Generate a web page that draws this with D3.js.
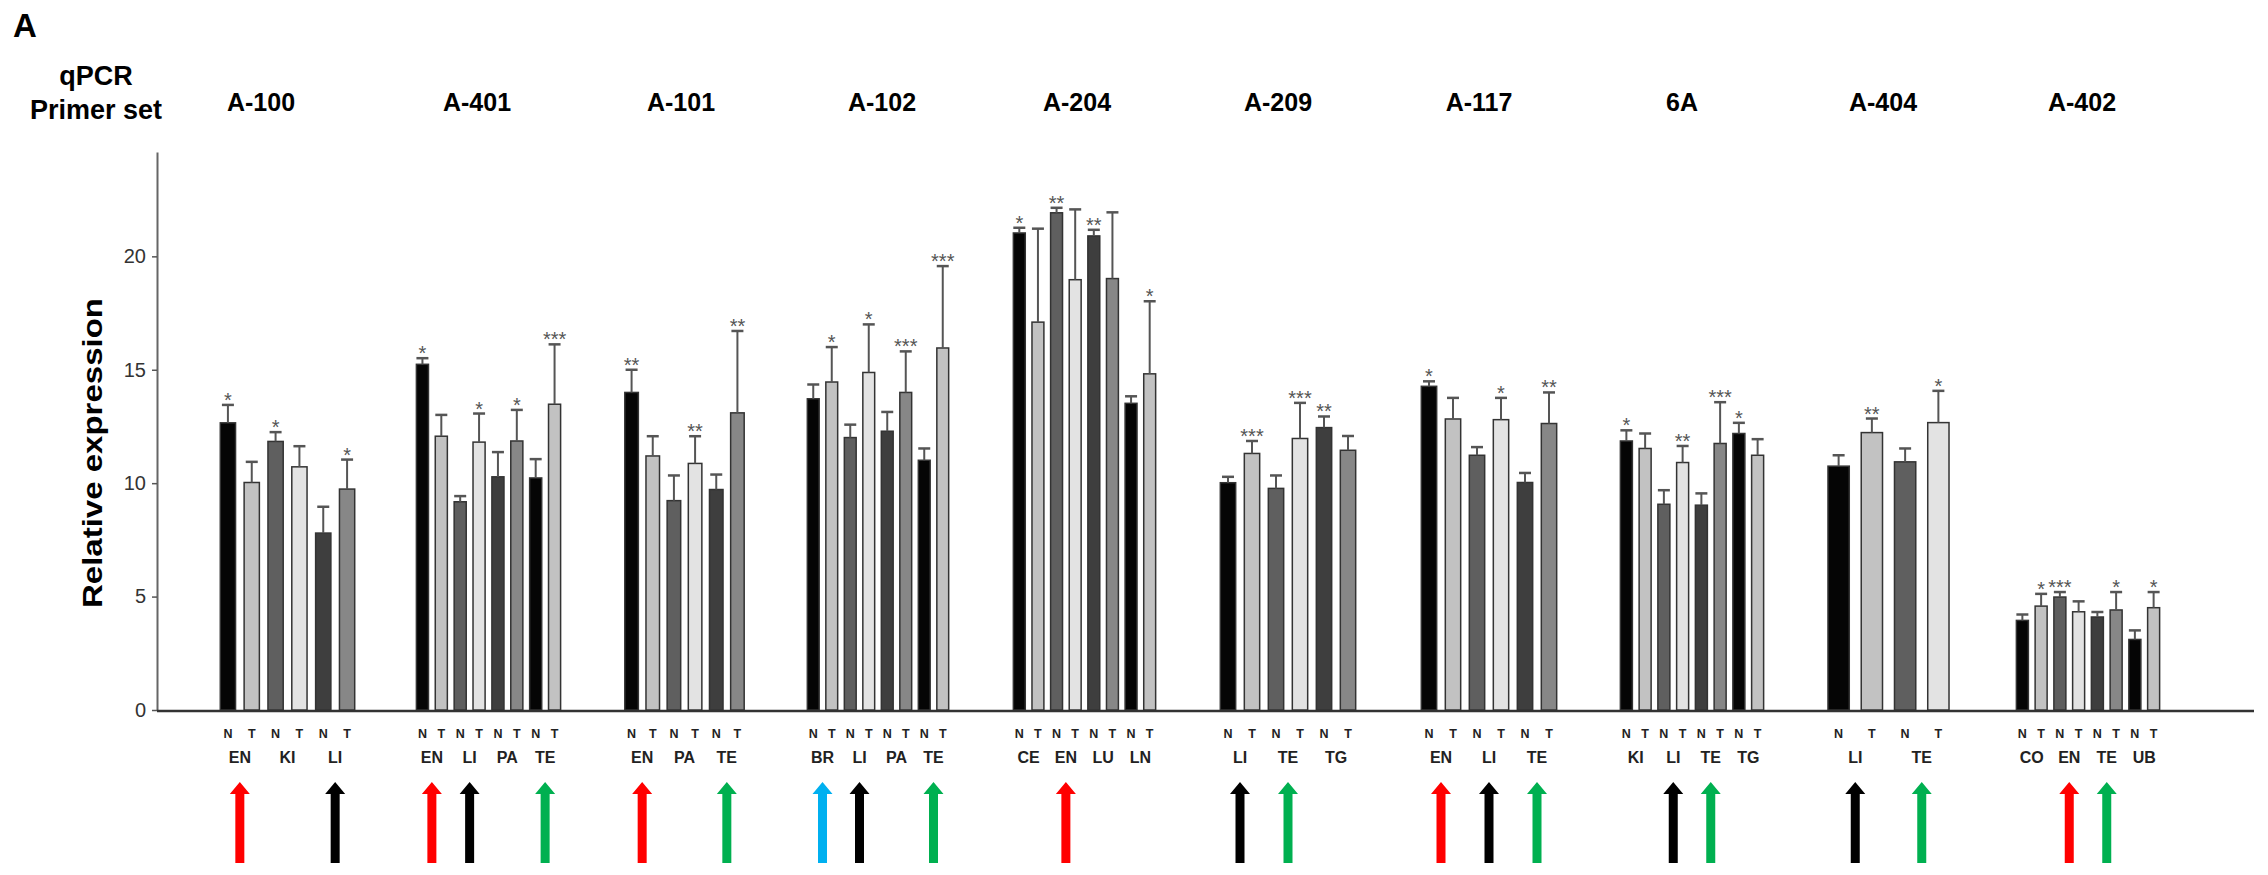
<!DOCTYPE html>
<html>
<head>
<meta charset="utf-8">
<script src="https://cdn.jsdelivr.net/npm/d3@7"></script>
<style>
  body { margin: 0; background: #fff; }
  svg { display: block; }
</style>
</head>
<body>
<div id="chart"></div>
<script>
// data
const primerSets = ['A-100', 'A-401', 'A-101', 'A-102', 'A-204', 'A-209', 'A-117', '6A', 'A-404', 'A-402'];

const tissues = [
  ['EN', 'KI', 'LI'],
  ['EN', 'LI', 'PA', 'TE'],
  ['EN', 'PA', 'TE'],
  ['BR', 'LI', 'PA', 'TE'],
  ['CE', 'EN', 'LU', 'LN'],
  ['LI', 'TE', 'TG'],
  ['EN', 'LI', 'TE'],
  ['KI', 'LI', 'TE', 'TG'],
  ['LI', 'TE'],
  ['CO', 'EN', 'TE', 'UB'],
];

// N, T, N, T ... per primer set
const means = [
  [12.66, 10.03, 11.84, 10.72, 7.80, 9.74],
  [15.24, 12.07, 9.18, 11.81, 10.28, 11.86, 10.23, 13.48],
  [14.0, 11.2, 9.23, 10.87, 9.72, 13.1],
  [13.72, 14.46, 12.01, 14.88, 12.29, 14.0, 11.01, 15.96],
  [21.03, 17.1, 21.92, 18.97, 20.9, 19.02, 13.52, 14.82],
  [10.02, 11.31, 9.77, 11.97, 12.45, 11.45],
  [14.27, 12.83, 11.23, 12.8, 10.03, 12.63],
  [11.86, 11.53, 9.07, 10.91, 9.03, 11.75, 12.19, 11.23],
  [10.75, 12.23, 10.94, 12.67],
  [3.95, 4.58, 4.98, 4.33, 4.1, 4.41, 3.11, 4.51],
];

const errors = [
  [0.79, 0.91, 0.41, 0.91, 1.16, 1.30],
  [0.27, 0.94, 0.25, 1.26, 1.09, 1.37, 0.83, 2.64],
  [1.0, 0.87, 1.11, 1.2, 0.66, 3.61],
  [0.63, 1.54, 0.57, 2.12, 0.85, 1.81, 0.52, 3.61],
  [0.23, 4.12, 0.22, 3.1, 0.27, 2.92, 0.31, 3.2],
  [0.26, 0.55, 0.57, 1.57, 0.49, 0.63],
  [0.22, 0.93, 0.36, 0.96, 0.42, 1.37],
  [0.47, 0.66, 0.62, 0.73, 0.52, 1.82, 0.47, 0.71],
  [0.48, 0.62, 0.59, 1.4],
  [0.26, 0.54, 0.22, 0.46, 0.22, 0.79, 0.4, 0.69],
];

const stars = [
  ['*', '', '*', '', '', '*'],
  ['*', '', '', '*', '', '*', '', '***'],
  ['**', '', '', '**', '', '**'],
  ['', '*', '', '*', '', '***', '', '***'],
  ['*', '', '**', '', '**', '', '', '*'],
  ['', '***', '', '***', '**', ''],
  ['*', '', '', '*', '', '**'],
  ['*', '', '', '**', '', '***', '*', ''],
  ['', '**', '', '*'],
  ['', '*', '***', '', '', '*', '', '*'],
];

const yTicks = [0, 5, 10, 15, 20];

// layout: pixel span of each panel and where its title sits
const panelRanges = [
  [216, 359], [413, 564], [621, 748], [804, 952], [1010, 1159],
  [1216, 1360], [1417, 1561], [1617, 1767], [1822, 1955], [2013, 2163],
];
const titleX = [261, 477, 681, 882, 1077, 1278, 1479, 1682, 1883, 2082];

const barColors = ['#050505', '#c2c2c2', '#5f5f5f', '#e3e3e3', '#3e3e3e', '#878787'];
const arrowColors = { EN: '#ff0000', LI: '#000000', TE: '#00b050', BR: '#00b0f0' };

const width = 2268, height = 875;
const font = "'Liberation Sans', Arial, Helvetica, sans-serif";
const narrow = "'Liberation Sans Narrow', 'Arial Narrow', 'Liberation Sans', sans-serif";

const svg = d3.select('#chart').append('svg')
  .attr('width', width)
  .attr('height', height)
  .style('background', '#fff');

const y = d3.scaleLinear().domain([0, 24.6]).range([710, 152]);

// panel letter and header
svg.append('text')
  .attr('x', 13).attr('y', 37)
  .attr('font-family', font).attr('font-weight', 'bold').attr('font-size', 33)
  .text('A');

svg.append('text')
  .attr('x', 96).attr('y', 85)
  .attr('text-anchor', 'middle')
  .attr('font-family', font).attr('font-weight', 'bold').attr('font-size', 27)
  .text('qPCR');
svg.append('text')
  .attr('x', 96).attr('y', 119)
  .attr('text-anchor', 'middle')
  .attr('font-family', font).attr('font-weight', 'bold').attr('font-size', 27)
  .text('Primer set');

svg.append('g')
  .selectAll('text')
  .data(primerSets)
  .enter().append('text')
  .attr('x', (d, i) => titleX[i])
  .attr('y', 111)
  .attr('text-anchor', 'middle')
  .attr('font-family', font).attr('font-weight', 'bold').attr('font-size', 25)
  .text(d => d);

// y axis
const yAxis = svg.append('g')
  .attr('transform', 'translate(157,0)')
  .call(d3.axisLeft(y).tickValues(yTicks).tickSize(5).tickSizeOuter(0).tickPadding(6));
yAxis.select('.domain').attr('stroke', '#666').attr('stroke-width', 2);
yAxis.selectAll('.tick line').attr('stroke', '#555').attr('stroke-width', 1.5);
yAxis.selectAll('.tick text')
  .attr('font-family', narrow).attr('font-size', 20).attr('fill', '#333');

svg.append('text')
  .attr('transform', 'translate(102,453) rotate(-90)')
  .attr('text-anchor', 'middle')
  .attr('font-family', font).attr('font-weight', 'bold').attr('font-size', 27)
  .attr('textLength', 310).attr('lengthAdjust', 'spacingAndGlyphs')
  .text('Relative expression');

// baseline
svg.append('line')
  .attr('x1', 157).attr('x2', 2254)
  .attr('y1', y(0) + 1).attr('y2', y(0) + 1)
  .attr('stroke', '#333').attr('stroke-width', 2.5);

primerSets.forEach((name, gi) => {
  const vals = means[gi];
  const x = d3.scaleBand()
    .domain(d3.range(vals.length))
    .range(panelRanges[gi])
    .paddingInner(0.36)
    .paddingOuter(0.18);
  const bw = x.bandwidth();
  const cx = i => x(i) + bw / 2;
  const g = svg.append('g').attr('class', 'panel');

  g.selectAll('rect')
    .data(vals)
    .enter().append('rect')
    .attr('x', (d, i) => x(i))
    .attr('y', d => y(d))
    .attr('width', bw)
    .attr('height', d => y(0) - y(d))
    .attr('fill', (d, i) => barColors[i % barColors.length])
    .attr('stroke', '#333')
    .attr('stroke-width', 1.5);

  const err = g.append('g').attr('stroke', '#555');
  vals.forEach((v, i) => {
    const top = y(v + errors[gi][i]);
    err.append('line')
      .attr('x1', cx(i)).attr('x2', cx(i))
      .attr('y1', y(v)).attr('y2', top)
      .attr('stroke-width', 2);
    err.append('line')
      .attr('x1', cx(i) - 6).attr('x2', cx(i) + 6)
      .attr('y1', top).attr('y2', top)
      .attr('stroke-width', 2.5);
  });

  g.selectAll('text.star')
    .data(stars[gi])
    .enter().append('text')
    .attr('class', 'star')
    .attr('x', (d, i) => cx(i))
    .attr('y', (d, i) => y(vals[i] + errors[gi][i]) + 2)
    .attr('text-anchor', 'middle')
    .attr('font-family', font).attr('font-size', 20).attr('fill', '#555')
    .text(d => d);

  g.selectAll('text.nt')
    .data(vals)
    .enter().append('text')
    .attr('class', 'nt')
    .attr('x', (d, i) => cx(i))
    .attr('y', 738)
    .attr('text-anchor', 'middle')
    .attr('font-family', font).attr('font-weight', 'bold').attr('font-size', 12.5)
    .attr('fill', '#222')
    .text((d, i) => (i % 2 === 0 ? 'N' : 'T'));

  const pairX = j => (cx(2 * j) + cx(2 * j + 1)) / 2;

  g.selectAll('text.tissue')
    .data(tissues[gi])
    .enter().append('text')
    .attr('class', 'tissue')
    .attr('x', (d, j) => pairX(j))
    .attr('y', 763)
    .attr('text-anchor', 'middle')
    .attr('font-family', font).attr('font-weight', 'bold').attr('font-size', 16)
    .attr('fill', '#222')
    .text(d => d);

  // arrows under tissues of interest
  const arrow = (cxp) => {
    const p = d3.path();
    const sh = 4.5, hw = 10, top = 782, neck = 794, bottom = 863;
    p.moveTo(cxp, top);
    p.lineTo(cxp + hw, neck);
    p.lineTo(cxp + sh, neck);
    p.lineTo(cxp + sh, bottom);
    p.lineTo(cxp - sh, bottom);
    p.lineTo(cxp - sh, neck);
    p.lineTo(cxp - hw, neck);
    p.closePath();
    return p.toString();
  };

  g.selectAll('path.arrow')
    .data(tissues[gi].map((t, j) => ({ t, j })).filter(d => arrowColors[d.t]))
    .enter().append('path')
    .attr('class', 'arrow')
    .attr('d', d => arrow(pairX(d.j)))
    .attr('fill', d => arrowColors[d.t]);
});
</script>
</body>
</html>
